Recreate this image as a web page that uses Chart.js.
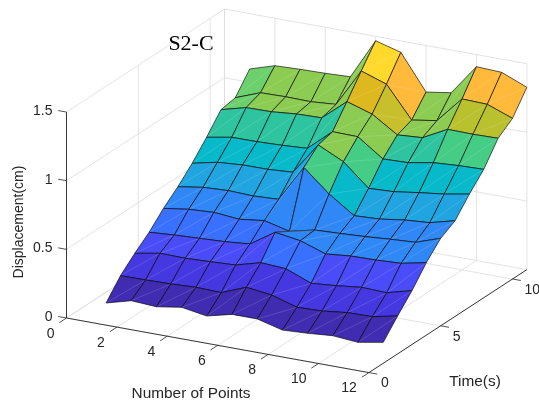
<!DOCTYPE html>
<html>
<head>
<meta charset="utf-8">
<script src="https://cdn.jsdelivr.net/npm/chart.js@4"></script>
<style>
  html, body { margin: 0; padding: 0; background: #fff; }
  canvas { display: block; }
</style>
</head>
<body>
<canvas id="surface" width="539" height="404"></canvas>
<script>
// surface axes
const numberOfPoints = [1, 2, 3, 4, 5, 6, 7, 8, 9, 10, 11, 12]
const timeSteps = [1, 2, 3, 4, 5, 6, 7, 8, 9, 10, 11]

// displacement (cm), one list per time step
const dispT1 = [0.074, 0.124, 0.113, 0.142, 0.112, 0.157, 0.157, 0.109, 0.119, 0.134, 0.119, 0.152]
const dispT2 = [0.205, 0.207, 0.211, 0.220, 0.214, 0.286, 0.263, 0.207, 0.213, 0.234, 0.238, 0.276]
const dispT3 = [0.300, 0.333, 0.330, 0.338, 0.347, 0.397, 0.386, 0.313, 0.329, 0.350, 0.344, 0.392]
const dispT4 = [0.385, 0.398, 0.407, 0.416, 0.432, 0.550, 0.522, 0.459, 0.477, 0.481, 0.490, 0.528]
const dispT5 = [0.491, 0.517, 0.528, 0.511, 0.534, 0.489, 0.532, 0.540, 0.550, 0.564, 0.575, 0.637]
const dispT6 = [0.580, 0.609, 0.618, 0.612, 0.621, 0.886, 0.726, 0.601, 0.610, 0.636, 0.650, 0.697]
const dispT7 = [0.683, 0.723, 0.737, 0.738, 0.750, 0.982, 0.893, 0.732, 0.741, 0.767, 0.790, 0.823]
const dispT8 = [0.804, 0.837, 0.838, 0.845, 0.856, 1.010, 1.007, 0.878, 0.884, 0.917, 0.929, 0.935]
const dispT9 = [0.937, 0.985, 0.988, 1.005, 1.010, 1.161, 1.103, 0.985, 0.998, 1.092, 1.089, 1.093]
const dispT10 = [0.956, 1.025, 1.029, 1.026, 1.040, 1.316, 1.253, 1.025, 1.054, 1.245, 1.239, 1.170]
const dispT11 = [1.097, 1.154, 1.161, 1.165, 1.173, 1.468, 1.417, 1.161, 1.189, 1.412, 1.404, 1.328]
const dispRows = [dispT1, dispT2, dispT3, dispT4, dispT5, dispT6, dispT7, dispT8, dispT9, dispT10, dispT11]

// tick labels
const xTicks = [0, 2, 4, 6, 8, 10, 12]
const timeTicks = [0, 5, 10]
const dispTicks = [0, 0.5, 1, 1.5]
const dispTickLabels = ['0', '0.5', '1', '1.5']

// colour bands, lower limit of each
const bandLimits = [0, 0.2, 0.29, 0.38, 0.45, 0.58, 0.67, 0.8, 0.885, 0.936, 0.975, 1.08, 1.1, 1.15, 1.22, 1.3]
const bandColors = ['#402cb0', '#4538e0', '#4a4cf8', '#3a70ff', '#2f88f5', '#20a5e0', '#07b9c9', '#2fc4a0',
  '#45cc85', '#6cd06c', '#8ccc52', '#b9c12e', '#c7bf2b', '#deb81f', '#ffb93b', '#ffd92b']

const xMax = 12, timeMax = 11, dispMax = 1.5

// MATLAB style orthographic view, projected to page units
function project(x, t, z) {
  return {
    x: 66.5 + 25.2 * x + 14.36 * t,
    y: 318 + 4.55 * x - 9.36 * t - 137.3 * z
  }
}

function bandColor(z) {
  var c = bandColors[0]
  for (var i = 0; i < bandLimits.length; i++) {
    if (z >= bandLimits[i]) c = bandColors[i]
  }
  return c
}

function lineSet(a, b, color, width) {
  return {
    data: [project(a[0], a[1], a[2]), project(b[0], b[1], b[2])],
    showLine: true,
    fill: false,
    borderColor: color,
    borderWidth: width,
    pointRadius: 0,
    clip: false
  }
}

// listed back to front, reversed at the end
var sets = []
const gridColor = '#dcdcdc'
const axisColor = '#262626'

// walls and floor
for (var i = 0; i < dispTicks.length; i++) {
  sets.push(lineSet([0, 0, dispTicks[i]], [0, timeMax, dispTicks[i]], gridColor, 0.8))
  sets.push(lineSet([0, timeMax, dispTicks[i]], [xMax, timeMax, dispTicks[i]], gridColor, 0.8))
}
for (var i = 0; i < xTicks.length; i++) {
  sets.push(lineSet([xTicks[i], timeMax, 0], [xTicks[i], timeMax, dispMax], gridColor, 0.8))
  sets.push(lineSet([xTicks[i], 0, 0], [xTicks[i], timeMax, 0], gridColor, 0.8))
}
for (var i = 0; i < timeTicks.length; i++) {
  sets.push(lineSet([0, timeTicks[i], 0], [0, timeTicks[i], dispMax], gridColor, 0.8))
  sets.push(lineSet([0, timeTicks[i], 0], [xMax, timeTicks[i], 0], gridColor, 0.8))
}
sets.push(lineSet([0, timeMax, 0], [0, timeMax, dispMax], gridColor, 0.8))

// axis lines and ticks
sets.push(lineSet([0, 0, 0], [0, 0, dispMax], axisColor, 0.9))
sets.push(lineSet([0, 0, 0], [xMax, 0, 0], axisColor, 0.9))
sets.push(lineSet([xMax, 0, 0], [xMax, timeMax, 0], axisColor, 0.9))
for (var i = 0; i < dispTicks.length; i++) {
  sets.push(lineSet([0, 0, dispTicks[i]], [-0.33, 0, dispTicks[i]], axisColor, 0.8))
}
for (var i = 0; i < xTicks.length; i++) {
  sets.push(lineSet([xTicks[i], 0, 0], [xTicks[i], -0.5, 0], axisColor, 0.8))
}
for (var i = 0; i < timeTicks.length; i++) {
  sets.push(lineSet([xMax, timeTicks[i], 0], [xMax + 0.33, timeTicks[i], 0], axisColor, 0.8))
}

// surface faces, far corner first
for (var a = 0; a < numberOfPoints.length - 1; a++) {
  for (var b = timeSteps.length - 2; b >= 0; b--) {
    var x0 = numberOfPoints[a], x1 = numberOfPoints[a + 1]
    var t0 = timeSteps[b], t1 = timeSteps[b + 1]
    var p00 = project(x0, t0, dispRows[b][a])
    var p10 = project(x1, t0, dispRows[b][a + 1])
    var p11 = project(x1, t1, dispRows[b + 1][a + 1])
    var p01 = project(x0, t1, dispRows[b + 1][a])
    sets.push({
      data: [p00, p10, p11, p01, p00],
      showLine: true,
      fill: 'shape',
      backgroundColor: bandColor(dispRows[b][a]),
      borderColor: 'rgba(0,0,0,0.85)',
      borderWidth: 0.75,
      borderJoinStyle: 'round',
      pointRadius: 0,
      clip: false
    })
    sets.push({
      data: [p00, p11],
      showLine: true,
      fill: false,
      borderColor: 'rgba(255,255,255,0.2)',
      borderWidth: 0.7,
      pointRadius: 0,
      clip: false
    })
  }
}
sets.reverse()

const axisText = {
  id: 'axisText',
  afterDraw: function (chart) {
    var ctx = chart.ctx
    var sx = chart.scales.x, sy = chart.scales.y
    function put(p, dx, dy, text, align) {
      ctx.textAlign = align
      ctx.fillText(text, sx.getPixelForValue(p.x) + dx, sy.getPixelForValue(p.y) + dy)
    }
    ctx.save()
    ctx.textBaseline = 'middle'
    ctx.fillStyle = axisColor
    ctx.font = '14px "Liberation Sans"'
    dispTicks.forEach(function (v, i) {
      put(project(0, 0, v), -14, -1, dispTickLabels[i], 'right')
    })
    xTicks.forEach(function (v) {
      put(project(v, 0, 0), -12, 16, String(v), 'right')
    })
    timeTicks.forEach(function (v) {
      put(project(xMax, v, 0), 12, 11, String(v), 'left')
    })
    ctx.textAlign = 'center'
    ctx.font = '15.4px "Liberation Sans"'
    ctx.fillText('Number of Points', 191, 394)
    ctx.fillText('Time(s)', 475, 382)
    ctx.save()
    ctx.translate(19, 222)
    ctx.rotate(-Math.PI / 2)
    ctx.font = '14px "Liberation Sans"'
    ctx.fillText('Displacement(cm)', 0, 0)
    ctx.restore()
    ctx.fillStyle = '#000'
    ctx.font = '22px "Liberation Serif"'
    ctx.fillText('S2-C', 191, 44)
    ctx.restore()
  }
}

new Chart(document.getElementById('surface'), {
  type: 'scatter',
  data: { datasets: sets },
  plugins: [axisText],
  options: {
    responsive: false,
    animation: false,
    events: [],
    layout: { padding: 0 },
    plugins: {
      legend: { display: false },
      tooltip: { enabled: false }
    },
    scales: {
      x: { type: 'linear', display: false, min: 0, max: 539 },
      y: { type: 'linear', display: false, min: 0, max: 404, reverse: true }
    }
  }
})
</script>
</body>
</html>
